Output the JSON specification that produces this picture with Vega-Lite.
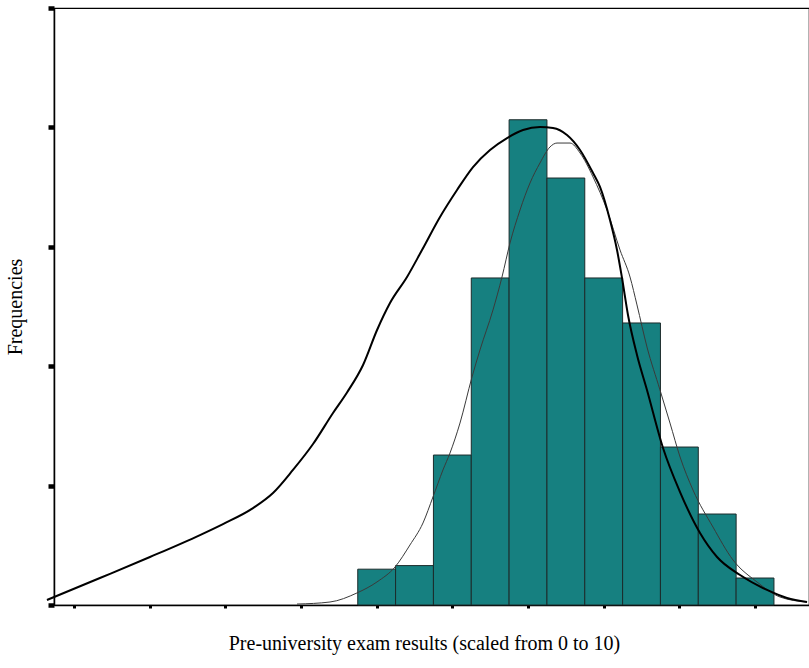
{
  "$schema": "https://vega.github.io/schema/vega-lite/v6.json",
  "width": 755,
  "height": 597,
  "autosize": {"type": "none"},
  "padding": {"left": 54, "top": 8, "right": 0, "bottom": 63},
  "background": "white",
  "config": {
    "view": {"stroke": "black", "strokeWidth": 1.2},
    "font": "Liberation Serif"
  },
  "datasets": {
    "bars": [
      {"score": 3.75, "score_end": 4.25, "freq": 3.0},
      {"score": 4.25, "score_end": 4.75, "freq": 3.3},
      {"score": 4.75, "score_end": 5.25, "freq": 12.56},
      {"score": 5.25, "score_end": 5.75, "freq": 27.39},
      {"score": 5.75, "score_end": 6.25, "freq": 40.64},
      {"score": 6.25, "score_end": 6.75, "freq": 35.76},
      {"score": 6.75, "score_end": 7.25, "freq": 27.39},
      {"score": 7.25, "score_end": 7.75, "freq": 23.62},
      {"score": 7.75, "score_end": 8.25, "freq": 13.23},
      {"score": 8.25, "score_end": 8.75, "freq": 7.62},
      {"score": 8.75, "score_end": 9.25, "freq": 2.26}
    ],
    "thick": [
      {"score": -0.357, "freq": 0.42},
      {"score": 0.343, "freq": 2.26},
      {"score": 1.004, "freq": 4.02},
      {"score": 1.665, "freq": 5.86},
      {"score": 1.969, "freq": 6.78},
      {"score": 2.366, "freq": 8.12},
      {"score": 2.63, "freq": 9.38},
      {"score": 2.894, "freq": 11.31},
      {"score": 3.159, "freq": 13.48},
      {"score": 3.423, "freq": 16.08},
      {"score": 3.608, "freq": 17.8},
      {"score": 3.82, "freq": 20.1},
      {"score": 4.005, "freq": 23.03},
      {"score": 4.176, "freq": 25.29},
      {"score": 4.401, "freq": 27.47},
      {"score": 4.599, "freq": 29.73},
      {"score": 4.837, "freq": 32.5},
      {"score": 5.062, "freq": 34.76},
      {"score": 5.273, "freq": 36.68},
      {"score": 5.498, "freq": 38.11},
      {"score": 5.723, "freq": 39.11},
      {"score": 5.934, "freq": 39.78},
      {"score": 6.159, "freq": 40.03},
      {"score": 6.33, "freq": 39.95},
      {"score": 6.515, "freq": 39.36},
      {"score": 6.687, "freq": 38.11},
      {"score": 6.859, "freq": 36.18},
      {"score": 6.951, "freq": 35.01},
      {"score": 7.083, "freq": 32.24},
      {"score": 7.176, "freq": 29.73},
      {"score": 7.242, "freq": 27.39},
      {"score": 7.321, "freq": 24.29},
      {"score": 7.44, "freq": 20.94},
      {"score": 7.572, "freq": 18.01},
      {"score": 7.784, "freq": 13.15},
      {"score": 8.009, "freq": 9.46},
      {"score": 8.273, "freq": 6.03},
      {"score": 8.498, "freq": 4.02},
      {"score": 8.802, "freq": 2.51},
      {"score": 9.158, "freq": 1.26},
      {"score": 9.422, "freq": 0.59},
      {"score": 9.687, "freq": 0.25}
    ],
    "thin": [
      {"score": 2.947, "freq": 0.08},
      {"score": 3.383, "freq": 0.25},
      {"score": 3.74, "freq": 1.01},
      {"score": 4.004, "freq": 1.93},
      {"score": 4.242, "freq": 3.18},
      {"score": 4.44, "freq": 5.03},
      {"score": 4.612, "freq": 6.87},
      {"score": 4.744, "freq": 9.05},
      {"score": 4.876, "freq": 11.31},
      {"score": 4.969, "freq": 12.73},
      {"score": 5.101, "freq": 15.24},
      {"score": 5.26, "freq": 19.1},
      {"score": 5.365, "freq": 21.36},
      {"score": 5.537, "freq": 24.71},
      {"score": 5.656, "freq": 27.47},
      {"score": 5.762, "freq": 30.32},
      {"score": 5.894, "freq": 33.08},
      {"score": 6.026, "freq": 35.34},
      {"score": 6.158, "freq": 37.02},
      {"score": 6.29, "freq": 38.36},
      {"score": 6.383, "freq": 38.69},
      {"score": 6.555, "freq": 38.69},
      {"score": 6.687, "freq": 37.86},
      {"score": 6.859, "freq": 35.85},
      {"score": 7.044, "freq": 33.08},
      {"score": 7.216, "freq": 29.73},
      {"score": 7.348, "freq": 27.47},
      {"score": 7.44, "freq": 25.13},
      {"score": 7.572, "freq": 21.61},
      {"score": 7.744, "freq": 18.01},
      {"score": 7.876, "freq": 15.24},
      {"score": 8.009, "freq": 12.4},
      {"score": 8.18, "freq": 9.63},
      {"score": 8.444, "freq": 6.53},
      {"score": 8.709, "freq": 3.77},
      {"score": 9.026, "freq": 1.93},
      {"score": 9.33, "freq": 0.67},
      {"score": 9.687, "freq": 0.25}
    ]
  },
  "encoding": {
    "x": {
      "field": "score",
      "type": "quantitative",
      "scale": {"domain": [-0.264, 9.713], "nice": false, "zero": false},
      "axis": {
        "values": [0, 1, 2, 3, 4, 5, 6, 7, 8, 9],
        "labels": false,
        "grid": false,
        "tickSize": 3,
        "tickWidth": 3,
        "tickColor": "black",
        "domainColor": "black",
        "domainWidth": 1.5,
        "title": "Pre-university exam results (scaled from 0 to 10)",
        "titleFont": "Liberation Serif",
        "titleFontSize": 20,
        "titleFontWeight": "normal",
        "titleColor": "black",
        "titlePadding": 24,
        "titleX": 370
      }
    },
    "y": {
      "field": "freq",
      "type": "quantitative",
      "scale": {"domain": [0, 50], "nice": false},
      "axis": {
        "values": [0, 10, 20, 30, 40, 50],
        "labels": false,
        "grid": false,
        "tickSize": 6,
        "tickWidth": 4.5,
        "tickColor": "black",
        "domainColor": "black",
        "domainWidth": 1.5,
        "title": "Frequencies",
        "titleFont": "Liberation Serif",
        "titleFontSize": 20,
        "titleFontWeight": "normal",
        "titleColor": "black",
        "titlePadding": 20
      }
    }
  },
  "layer": [
    {
      "data": {"name": "bars"},
      "mark": {"type": "rect", "fill": "#168080", "stroke": "#1c2b2b", "strokeWidth": 1},
      "encoding": {"x2": {"field": "score_end"}, "y2": {"datum": 0}}
    },
    {
      "data": {"name": "thin"},
      "mark": {"type": "line", "color": "#3a3a3a", "strokeWidth": 1, "interpolate": "monotone"},
      "encoding": {}
    },
    {
      "data": {"name": "thick"},
      "mark": {"type": "line", "color": "black", "strokeWidth": 2, "interpolate": "monotone"},
      "encoding": {}
    }
  ]
}
